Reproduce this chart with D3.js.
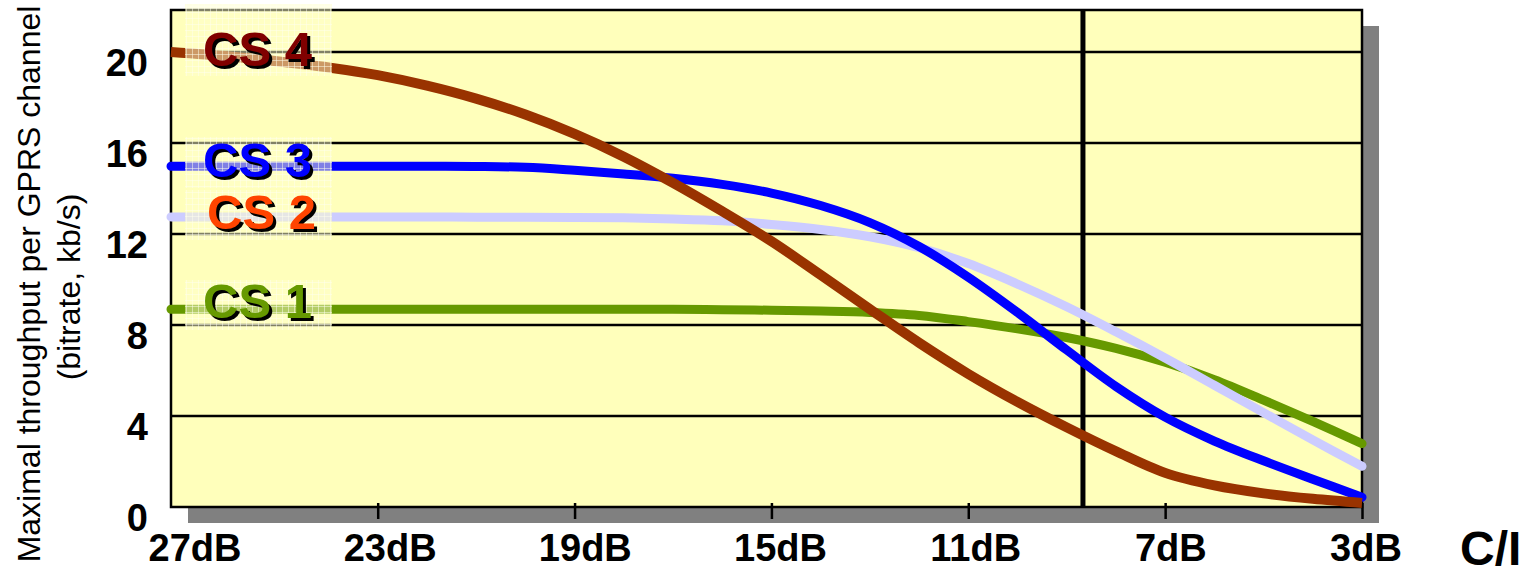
<!DOCTYPE html>
<html>
<head>
<meta charset="utf-8">
<script src="https://cdn.jsdelivr.net/npm/d3@7"></script>
<style>
  html, body { margin: 0; padding: 0; background: #ffffff; }
  svg { display: block; font-family: "Liberation Sans", Arial, Helvetica, sans-serif; }
</style>
</head>
<body>
<svg id="chart" width="1527" height="568"></svg>
<script>
// ---------------- data ----------------
const ciValues = [27.2, 26, 25, 24, 23, 22, 21, 20, 19, 18, 17, 16, 15, 14, 13, 12, 11, 10, 9, 8, 7, 6, 5, 4, 3];
const cs1 = [8.69, 8.69, 8.69, 8.69, 8.69, 8.69, 8.69, 8.69, 8.69, 8.69, 8.69, 8.67, 8.65, 8.61, 8.55, 8.42, 8.15, 7.83, 7.45, 6.97, 6.36, 5.6, 4.7, 3.76, 2.79];
const cs2 = [12.75, 12.75, 12.75, 12.75, 12.75, 12.75, 12.74, 12.74, 12.73, 12.71, 12.66, 12.58, 12.42, 12.2, 11.88, 11.4, 10.7, 9.8, 8.8, 7.7, 6.55, 5.35, 4.15, 2.95, 1.79];
const cs3 = [14.98, 14.98, 14.98, 14.98, 14.98, 14.98, 14.97, 14.93, 14.8, 14.64, 14.45, 14.18, 13.8, 13.25, 12.5, 11.45, 10.1, 8.55, 6.9, 5.3, 3.95, 2.9, 2.03, 1.22, 0.43];
const cs4 = [20.0, 19.8, 19.58, 19.32, 18.98, 18.52, 17.95, 17.25, 16.4, 15.4, 14.25, 13.0, 11.68, 10.2, 8.7, 7.22, 5.85, 4.62, 3.5, 2.45, 1.5, 0.95, 0.6, 0.36, 0.18];
const seriesNames = ["CS 1", "CS 2", "CS 3", "CS 4"];
const yTicks = [0, 4, 8, 12, 16, 20];
const xTickValues = [23, 19, 15, 11, 7, 3];
const xTickLabels = ["27dB", "23dB", "19dB", "15dB", "11dB", "7dB", "3dB"];
const xLabelValues = [27, 23, 19, 15, 11, 7, 3];
const markerCI = 8.67;
const yTitle1 = "Maximal throughput per GPRS channel";
const yTitle2 = "(bitrate, kb/s)";
const xTitle = "C/I";

// ---------------- layout ----------------
const svg = d3.select("#chart");
const L = 171, R = 1362, T = 10, B = 507;
const x = d3.scaleLinear().domain([27.2, 3]).range([L, R]);
const xLab = d3.scaleLinear().domain([27, 3]).range([195, 1366]);
const y = d3.scaleLinear().domain([0, 20]).range([B, 52]);

const defs = svg.append("defs");
const pat = defs.append("pattern").attr("id", "hatch").attr("patternUnits", "userSpaceOnUse")
  .attr("width", 6).attr("height", 6);
pat.append("rect").attr("width", 6).attr("height", 6).attr("fill", "#ffffcc").attr("opacity", 0.5);
pat.append("rect").attr("width", 6).attr("height", 1).attr("fill", "#ffffee").attr("opacity", 0.5);
pat.append("rect").attr("width", 1).attr("height", 6).attr("fill", "#ffffee").attr("opacity", 0.5);

// shadow
svg.append("rect").attr("x", L + 17).attr("y", T + 16).attr("width", R - L).attr("height", B - T).attr("fill", "#808080");
// plot background
svg.append("rect").attr("x", L).attr("y", T).attr("width", R - L).attr("height", B - T).attr("fill", "#ffffbb");

// gridlines
svg.append("g").selectAll("line").data(yTicks.filter(d => d > 0)).join("line")
  .attr("x1", L).attr("x2", R).attr("y1", d => y(d)).attr("y2", d => y(d))
  .attr("stroke", "#000").attr("stroke-width", 2.5);

// vertical marker
svg.append("line").attr("x1", x(markerCI)).attr("x2", x(markerCI)).attr("y1", T).attr("y2", B)
  .attr("stroke", "#000").attr("stroke-width", 5);

// x ticks
const xAxis = d3.axisBottom(x).tickValues(xTickValues).tickSize(16).tickFormat("");
const gx = svg.append("g").attr("transform", `translate(0,${B - 4})`).call(xAxis);
gx.select(".domain").remove();
gx.selectAll(".tick line").attr("stroke", "#000").attr("stroke-width", 2.5);

// border
svg.append("rect").attr("x", L).attr("y", T).attr("width", R - L).attr("height", B - T)
  .attr("fill", "none").attr("stroke", "#000").attr("stroke-width", 2.5);

// lines
const seriesData = [cs1, cs2, cs3, cs4];
const colors = ["#669900", "#ccccff", "#0000ff", "#993300"];
const widths = [9, 9, 9, 10];
const caps = ["round", "round", "round", "butt"];
const line = d3.line().x(d => x(d[0])).y(d => y(d[1])).curve(d3.curveCatmullRom.alpha(0.5));
seriesData.forEach((s, i) => {
  svg.append("path").datum(ciValues.map((c, j) => [c, s[j]]))
    .attr("d", line).attr("fill", "none").attr("stroke", colors[i])
    .attr("stroke-width", widths[i]).attr("stroke-linecap", caps[i]).attr("stroke-linejoin", "round");
});

// label boxes (hatched, semi-transparent)
const boxes = [[280, 330], [190, 240], [137, 188], [4, 76]];
boxes.forEach(b => {
  svg.append("rect").attr("x", 185).attr("y", b[0]).attr("width", 147).attr("height", b[1] - b[0])
    .attr("fill", "url(#hatch)");
});

// series labels
const labelColors = ["#669900", "#ff4400", "#0000ff", "#800000"];
const labelPos = [[203, 318], [207, 229], [203, 177], [203, 66]];
seriesNames.forEach((n, i) => {
  const g = svg.append("g");
  g.append("text").attr("x", labelPos[i][0] + 3).attr("y", labelPos[i][1] + 3)
    .attr("font-size", 49).attr("font-weight", "bold").attr("fill", "#000").text(n);
  g.append("text").attr("x", labelPos[i][0]).attr("y", labelPos[i][1])
    .attr("font-size", 49).attr("font-weight", "bold").attr("fill", labelColors[i]).text(n);
});

// y axis labels
const yAxis = d3.axisLeft(y).tickValues(yTicks).tickSize(0).tickPadding(0);
const gy = svg.append("g").attr("transform", `translate(148,0)`).call(yAxis);
gy.select(".domain").remove();
gy.selectAll(".tick text").attr("font-size", 38).attr("font-weight", "bold").attr("fill", "#000")
  .attr("font-family", "Liberation Sans, Arial, sans-serif").attr("dy", null).attr("y", 23.5).attr("x", 0)
  .attr("text-anchor", "end");

// x labels
svg.append("g").selectAll("text").data(xLabelValues).join("text")
  .attr("x", d => xLab(d)).attr("y", 561).attr("text-anchor", "middle")
  .attr("font-size", 38).attr("font-weight", "bold").attr("fill", "#000")
  .text((d, i) => xTickLabels[i]);

// x title
svg.append("text").attr("x", 1460).attr("y", 565).attr("font-size", 48).attr("font-weight", "bold")
  .attr("fill", "#000").text(xTitle);

// y title
svg.append("text").attr("transform", "translate(40,284) rotate(-90)").attr("text-anchor", "middle")
  .attr("font-size", 32).attr("fill", "#000").text(yTitle1);
svg.append("text").attr("transform", "translate(80,287) rotate(-90)").attr("text-anchor", "middle")
  .attr("font-size", 32).attr("fill", "#000").text(yTitle2);
</script>
</body>
</html>
